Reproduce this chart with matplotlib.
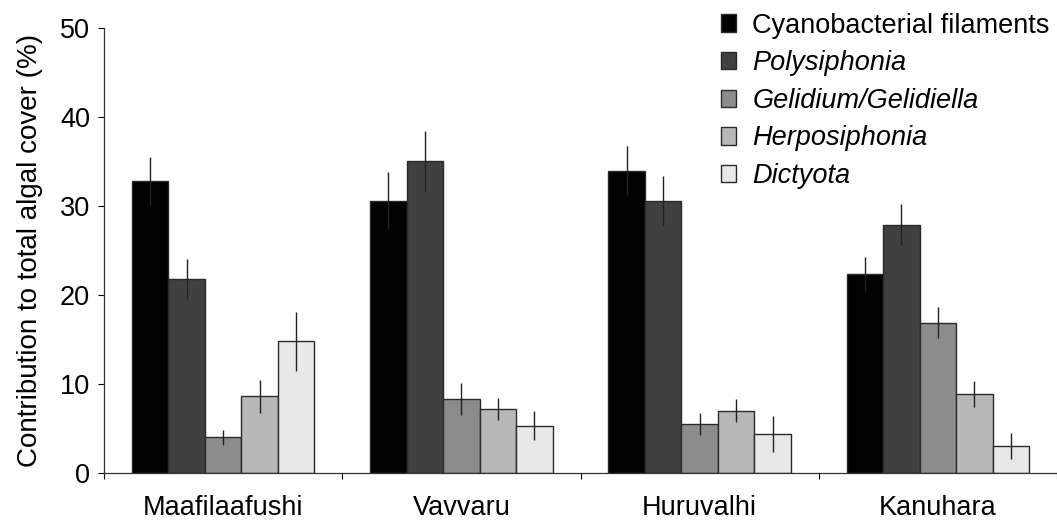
import numpy as np
import matplotlib
matplotlib.use('Agg')
import matplotlib.pyplot as plt

plt.rcParams['font.family'] = ['Liberation Sans', 'DejaVu Sans']

sites = ['Maafilaafushi', 'Vavvaru', 'Huruvalhi', 'Kanuhara']
taxa = ['Cyanobacterial filaments', 'Polysiphonia', 'Gelidium/Gelidiella',
        'Herposiphonia', 'Dictyota']

# mean contribution (%) per taxon, one value per site
cyano = [32.8, 30.6, 33.9, 22.4]
polysiphonia = [21.8, 35.0, 30.6, 27.9]
gelidium = [4.0, 8.3, 5.5, 16.9]
herposiphonia = [8.6, 7.2, 7.0, 8.9]
dictyota = [14.8, 5.3, 4.4, 3.0]

# standard errors
cyano_err = [2.7, 3.2, 2.8, 1.9]
polysiphonia_err = [2.2, 3.4, 2.8, 2.3]
gelidium_err = [0.85, 1.8, 1.25, 1.7]
herposiphonia_err = [1.9, 1.25, 1.3, 1.45]
dictyota_err = [3.3, 1.65, 2.0, 1.45]

means = [cyano, polysiphonia, gelidium, herposiphonia, dictyota]
errs = [cyano_err, polysiphonia_err, gelidium_err, herposiphonia_err, dictyota_err]
colors = ['#000000', '#404040', '#8c8c8c', '#b8b8b8', '#e8e8e8']

fig = plt.figure(figsize=(10.57, 5.22), dpi=100)
ax = fig.add_axes([0.0984, 0.0939, 0.9016, 0.8525])

x = np.arange(len(sites)) + 0.5
w = 0.153
for i in range(len(taxa)):
    pos = x + (i - 2) * w
    ax.bar(pos, means[i], width=w, color=colors[i], edgecolor='#2a2a2a',
           linewidth=1, label=taxa[i], zorder=2)
    ax.errorbar(pos, means[i], yerr=errs[i], fmt='none', ecolor='#222222',
                elinewidth=1, capsize=0, zorder=3)

ax.set_xlim(0, 953 / 241)
ax.set_ylim(0, 50)
ax.set_yticks([0, 10, 20, 30, 40, 50])
ax.set_xticks([0, 1, 2, 3, 4])
ax.set_xticklabels([])
ax.set_xticks(x, minor=True)
ax.set_xticklabels(sites, minor=True)
ax.tick_params(axis='x', which='minor', length=0, pad=16, labelsize=19.5)
ax.tick_params(axis='x', which='major', length=4, direction='out', width=0.8)
ax.tick_params(axis='y', length=4, width=0.8, pad=6, labelsize=19.5)
ax.set_ylabel('Contribution to total algal cover (%)', fontsize=20, labelpad=12)

for s in ['top', 'right']:
    ax.spines[s].set_visible(False)
for s in ['left', 'bottom']:
    ax.spines[s].set_linewidth(0.9)
    ax.spines[s].set_color('#333333')

leg = ax.legend(loc='upper right', bbox_to_anchor=(0.993, 0.976),
                bbox_transform=fig.transFigure, frameon=False,
                fontsize=19.5, handlelength=0.55, handleheight=0.6,
                handletextpad=0.6, labelspacing=0.43, borderpad=0,
                borderaxespad=0)
for t in leg.get_texts()[1:]:
    t.set_style('italic')

fig.savefig('out.png', dpi=100)
